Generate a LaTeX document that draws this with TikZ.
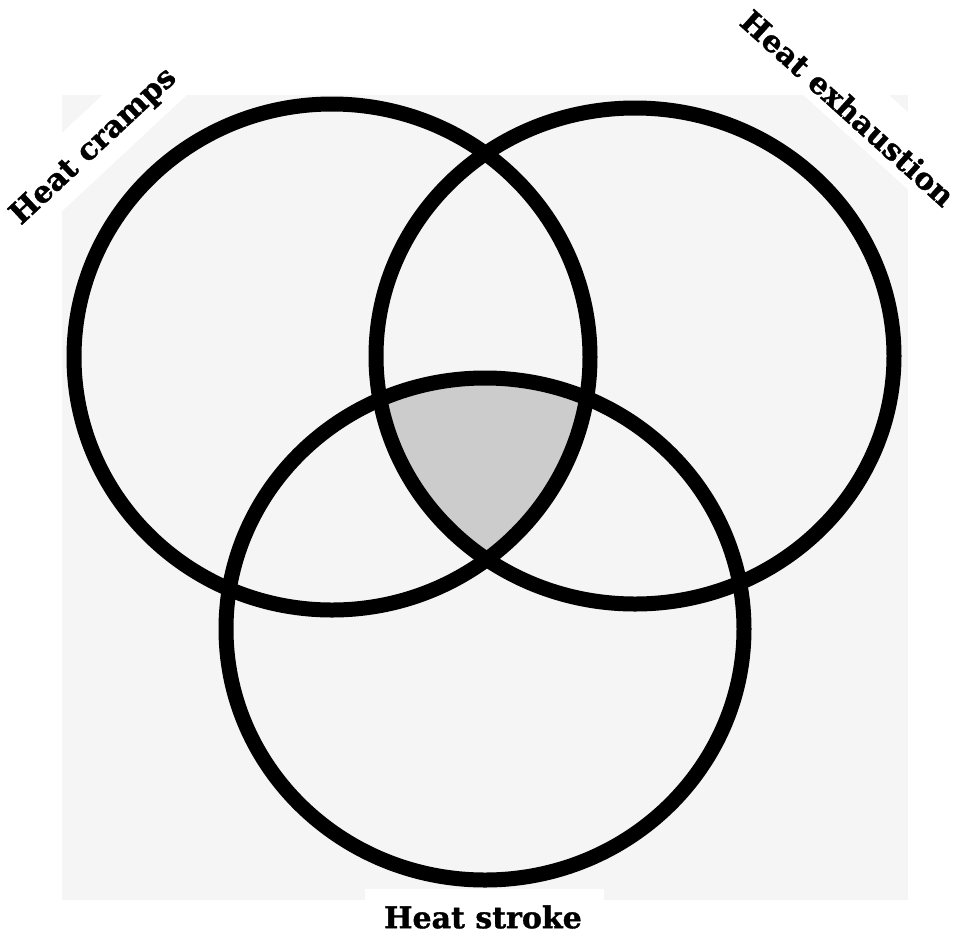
\documentclass[tikz,border=0pt]{standalone}
\usepackage{fontspec}
\setmainfont{DejaVu Serif}
\newfontfamily\lblfont{DejaVu Serif Bold}[FakeBold=1.2]
\definecolor{bggray}{HTML}{F5F5F5}
\definecolor{midgray}{HTML}{CCCCCC}
\begin{document}
\begin{tikzpicture}[x=0.75pt,y=-0.75pt,
  ring/.style={draw=black,line width=11.25pt},
  band/.style={fill=white,draw=none,inner sep=0pt,minimum height=43pt,minimum width=190pt},
  lbl/.style={font=\lblfont\fontsize{22.5}{24}\selectfont,inner sep=0pt}]
\useasboundingbox (0,0) rectangle (958,933);
\fill[white] (0,0) rectangle (958,933);
% background panel
\node[fill=bggray,draw=none,inner sep=0pt,minimum width=634.5pt,minimum height=603.75pt] (panel) at (485,497.5) {};
% white bands behind the corner labels
\node[band,rotate=43] (bandA) at (90.5,145.5) {};
\node[band,rotate=-42] (bandB) at (856,104) {};
% triple intersection
\begin{scope}
  \clip (332,357) ellipse [x radius=193.5pt, y radius=189.75pt];
  \clip (635,356) ellipse [x radius=194.25pt, y radius=186pt];
  \fill[midgray] (485,629) ellipse [x radius=194.25pt, y radius=188.25pt];
\end{scope}
% circles
\draw[ring] (332,357) ellipse [x radius=193.5pt, y radius=189.75pt];
\draw[ring] (635,356) ellipse [x radius=194.25pt, y radius=186pt];
\draw[ring] (485,629) ellipse [x radius=194.25pt, y radius=188.25pt];
% white box for bottom label
\node[fill=white,draw=none,inner sep=0pt,minimum width=179.25pt,minimum height=33pt,anchor=north west] (bandC) at (365,889) {};
% labels
\node[lbl,rotate=43] (cramps) at (94,147) {Heat cramps};
\node[lbl,rotate=-42] (exh) at (848,108) {Heat exhaustion};
\node[lbl] (stroke) at (483,917) {Heat stroke};
\end{tikzpicture}
\end{document}
